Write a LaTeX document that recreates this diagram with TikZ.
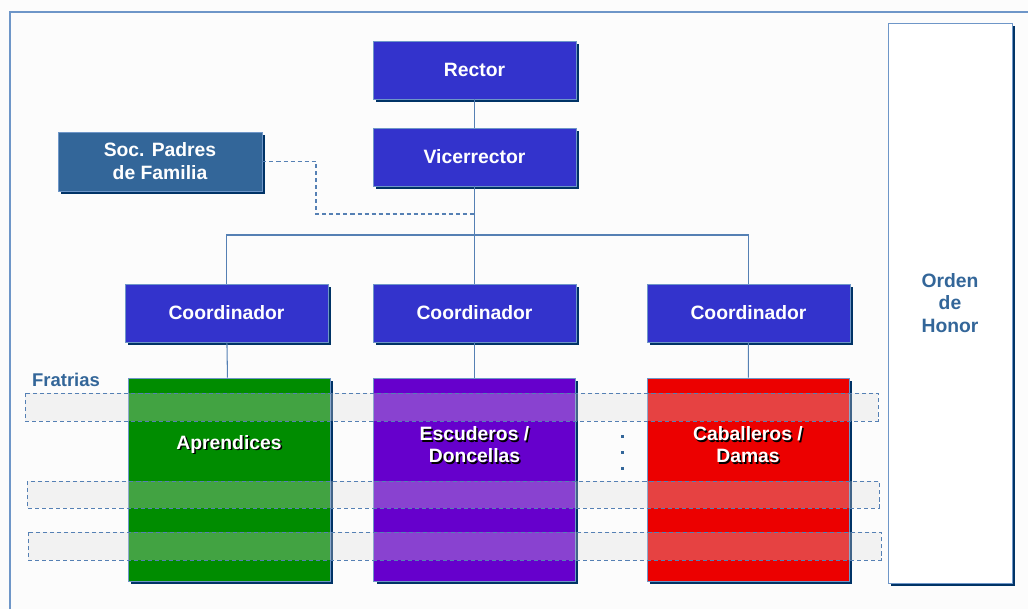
\documentclass[tikz,border=0pt]{standalone}
\usepackage{fontspec}
\setmainfont{Liberation Sans}
\usetikzlibrary{shadows}

\definecolor{unitblue}{RGB}{51,51,204}
\definecolor{padres}{RGB}{51,102,153}
\definecolor{aprgreen}{RGB}{0,140,0}
\definecolor{escpurple}{RGB}{102,0,204}
\definecolor{cabred}{RGB}{236,0,0}
\definecolor{shadownavy}{RGB}{0,51,102}
\definecolor{edgeblue}{RGB}{110,150,200}
\definecolor{linkblue}{RGB}{85,128,180}

\begin{document}
\begin{tikzpicture}[x=0.02cm, y=-0.02cm,
  unitbox/.style={draw=edgeblue, line width=0.5pt, text=white, inner sep=0pt,
    font=\fontsize{11}{13}\selectfont\bfseries, align=center,
    drop shadow={shadow xshift=0.06cm, shadow yshift=-0.06cm, fill=shadownavy, opacity=1}},
  smallbox/.style={unitbox, minimum width=4.06cm, minimum height=1.16cm},
  bigbox/.style={unitbox, minimum width=4.04cm, minimum height=4.06cm},
  boxlbl/.style={font=\fontsize{11}{12.5}\selectfont\bfseries, align=center, text=white},
  fratria/.style={draw=linkblue, line width=0.5pt, dash pattern=on 2.3pt off 1.7pt,
    fill=black!14, fill opacity=0.3},
  link/.style={draw=linkblue, line width=0.6pt}]

\useasboundingbox (0,0) rectangle (1028,609);
\fill[white!99!black] (0,0) rectangle (1028,609);
% outer frame
\draw[edgeblue, line width=0.6pt] (10,609) |- (1028,12);

% top of the chart
\node[smallbox, fill=unitblue] (rector) at (474.5,70) {Rector};
\node[smallbox, fill=unitblue] (vicerrector) at (474.5,157) {Vicerrector};
\node[unitbox, fill=padres, minimum width=4.08cm, minimum height=1.18cm] (socpadres) at (160,161.5) {Soc. Padres\\de Familia};

% coordinators
\node[smallbox, fill=unitblue] (coordA) at (226.5,313) {Coordinador};
\node[smallbox, fill=unitblue] (coordB) at (474.5,313) {Coordinador};
\node[smallbox, fill=unitblue] (coordC) at (748.5,313) {Coordinador};

% connectors
\coordinate (hub) at (474.5,235);
\coordinate (dashcorner) at (316,214);
\draw[link] (rector) -- (vicerrector);
\draw[link] (vicerrector) -- (hub);
\draw[link] (coordA.north) |- (hub) -| (coordC.north);
\draw[link] (hub) -- (coordB);
\draw[link, dash pattern=on 2.3pt off 1.7pt] (socpadres.east) -| (dashcorner) -- (dashcorner -| vicerrector.south);

% groups
\node[bigbox, fill=aprgreen] (aprendices) at (229,479.5) {};
\node[bigbox, fill=escpurple] (escuderos) at (474.5,479.5) {};
\node[bigbox, fill=cabred] (caballeros) at (748,479.5) {};
\draw[link] (coordA) -- (aprendices);
\draw[link] (coordB) -- (escuderos);
\draw[link] (coordC) -- (caballeros);

% Orden de Honor
\node[unitbox, fill=white, text=padres, font=\fontsize{11}{13}\selectfont\bfseries,
  minimum width=2.48cm, minimum height=11.2cm] (honor) at (950,303) {Orden\\de\\Honor};

% fratrias
\draw[fratria] (25,393) rectangle (878,421);
\draw[fratria] (27,481) rectangle (879,508);
\draw[fratria] (28,532) rectangle (881,560);
\node[font=\fontsize{10.5}{12}\selectfont\bfseries, text=padres] (fratrias) at (66,380) {Fratrias};

% group labels with text shadow
\node[boxlbl, text=black, xshift=0.03cm, yshift=-0.03cm] at (229,444) {Aprendices};
\node[boxlbl] (lblA) at (229,444) {Aprendices};
\node[boxlbl, text=black, xshift=0.03cm, yshift=-0.03cm] at (474.5,445) {Escuderos /\\Doncellas};
\node[boxlbl] (lblB) at (474.5,445) {Escuderos /\\Doncellas};
\node[boxlbl, text=black, xshift=0.03cm, yshift=-0.03cm] at (748,445) {Caballeros /\\Damas};
\node[boxlbl] (lblC) at (748,445) {Caballeros /\\Damas};

% dots between groups
\foreach \y in {436,452,468}
  \fill[padres] (620.5,\y-1.5) rectangle (623.5,\y+1.5);

\end{tikzpicture}
\end{document}
